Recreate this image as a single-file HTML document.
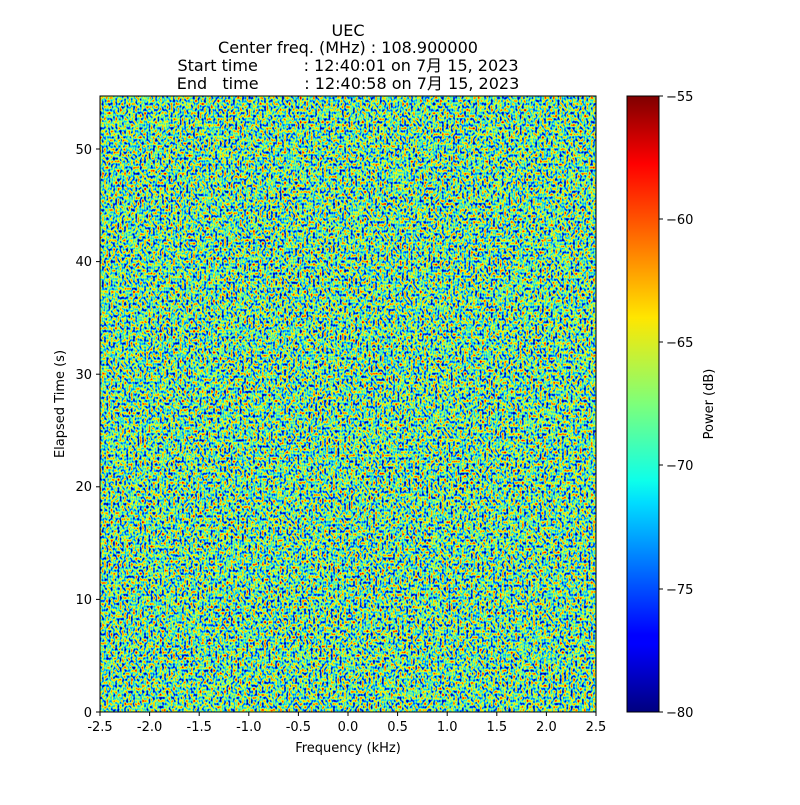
<!DOCTYPE html>
<html><head><meta charset="utf-8"><style>
body{margin:0;background:#fff;}
svg text{font-family:"DejaVu Sans","Liberation Sans","Noto Sans CJK JP",sans-serif;fill:#000;white-space:pre;}
</style></head><body>
<svg width="800" height="800" xmlns="http://www.w3.org/2000/svg">
<defs>
<filter id="n" x="0" y="0" width="100%" height="100%" color-interpolation-filters="sRGB">
<feTurbulence type="fractalNoise" baseFrequency="0.45 0.33" numOctaves="1" seed="3" result="t"/>
<feColorMatrix type="matrix" values="1 0 0 0 0  1 0 0 0 0  1 0 0 0 0  0 0 0 0 1"/>
<feComponentTransfer>
<feFuncR type="linear" slope="1.7" intercept="-0.45"/>
<feFuncG type="linear" slope="1.7" intercept="-0.45"/>
<feFuncB type="linear" slope="1.7" intercept="-0.45"/>
</feComponentTransfer>
<feComponentTransfer>
<feFuncR type="table" tableValues="0 0 0 0.5 1 1 1 0.5"/>
<feFuncG type="table" tableValues="0 0.2 0.8 1 1 0.6 0 0"/>
<feFuncB type="table" tableValues="0.6 1 1 0.5 0 0 0 0"/>
<feFuncA type="table" tableValues="1 1"/>
</feComponentTransfer>
</filter>
<linearGradient id="jet" x1="0" y1="1" x2="0" y2="0">
<stop offset="0" stop-color="#00007f"/>
<stop offset="0.11" stop-color="#0000ff"/>
<stop offset="0.125" stop-color="#0000ff"/>
<stop offset="0.34" stop-color="#00ddff"/>
<stop offset="0.375" stop-color="#0dffea"/>
<stop offset="0.5" stop-color="#7dff7a"/>
<stop offset="0.64" stop-color="#ffe600"/>
<stop offset="0.75" stop-color="#ff8000"/>
<stop offset="0.89" stop-color="#ff0000"/>
<stop offset="1" stop-color="#7f0000"/>
</linearGradient>
</defs>
<g text-anchor="middle" font-size="16">
<text x="348" y="36">UEC</text>
<text x="348" y="53">Center freq. (MHz) : 108.900000</text>
<text x="348" y="71">Start time         : 12:40:01 on 7月 15, 2023</text>
<text x="348" y="89">End   time         : 12:40:58 on 7月 15, 2023</text>
</g>
<rect x="100" y="96" width="496" height="616" fill="#7fd88a"/>
<rect x="100" y="96" width="496" height="616" filter="url(#n)"/>
<rect x="100" y="96" width="496" height="616" fill="none" stroke="#000" stroke-width="1"/>
<g stroke="#000">
<line x1="100" y1="712" x2="100" y2="716"/><line x1="149.6" y1="712" x2="149.6" y2="716"/><line x1="199.2" y1="712" x2="199.2" y2="716"/><line x1="248.8" y1="712" x2="248.8" y2="716"/><line x1="298.4" y1="712" x2="298.4" y2="716"/><line x1="348" y1="712" x2="348" y2="716"/><line x1="397.6" y1="712" x2="397.6" y2="716"/><line x1="447.2" y1="712" x2="447.2" y2="716"/><line x1="496.8" y1="712" x2="496.8" y2="716"/><line x1="546.4" y1="712" x2="546.4" y2="716"/><line x1="596" y1="712" x2="596" y2="716"/>
<line x1="96" y1="712" x2="100" y2="712"/><line x1="96" y1="599.4" x2="100" y2="599.4"/><line x1="96" y1="486.8" x2="100" y2="486.8"/><line x1="96" y1="374.2" x2="100" y2="374.2"/><line x1="96" y1="261.6" x2="100" y2="261.6"/><line x1="96" y1="149" x2="100" y2="149"/>
<line x1="659" y1="96" x2="663" y2="96"/><line x1="659" y1="219" x2="663" y2="219"/><line x1="659" y1="342" x2="663" y2="342"/><line x1="659" y1="465" x2="663" y2="465"/><line x1="659" y1="589" x2="663" y2="589"/><line x1="659" y1="712" x2="663" y2="712"/>
</g>
<g font-size="13" text-anchor="middle">
<text x="100" y="731">-2.5</text><text x="149.6" y="731">-2.0</text><text x="199.2" y="731">-1.5</text><text x="248.8" y="731">-1.0</text><text x="298.4" y="731">-0.5</text><text x="348" y="731">0.0</text><text x="397.6" y="731">0.5</text><text x="447.2" y="731">1.0</text><text x="496.8" y="731">1.5</text><text x="546.4" y="731">2.0</text><text x="596" y="731">2.5</text>
<text x="348" y="752">Frequency (kHz)</text>
</g>
<g font-size="13" text-anchor="end">
<text x="92" y="717">0</text><text x="92" y="604">10</text><text x="92" y="491">20</text><text x="92" y="379">30</text><text x="92" y="266">40</text><text x="92" y="154">50</text>
</g>
<text font-size="13" text-anchor="middle" transform="translate(64,404) rotate(-90)">Elapsed Time (s)</text>
<rect x="627" y="96" width="32" height="616" fill="url(#jet)" stroke="#000" stroke-width="1"/>
<g font-size="13">
<text x="666" y="101">−55</text><text x="666" y="224">−60</text><text x="666" y="347">−65</text><text x="666" y="470">−70</text><text x="666" y="594">−75</text><text x="666" y="717">−80</text>
</g>
<text font-size="13" text-anchor="middle" transform="translate(713,404) rotate(-90)">Power (dB)</text>
</svg>
</body></html>
